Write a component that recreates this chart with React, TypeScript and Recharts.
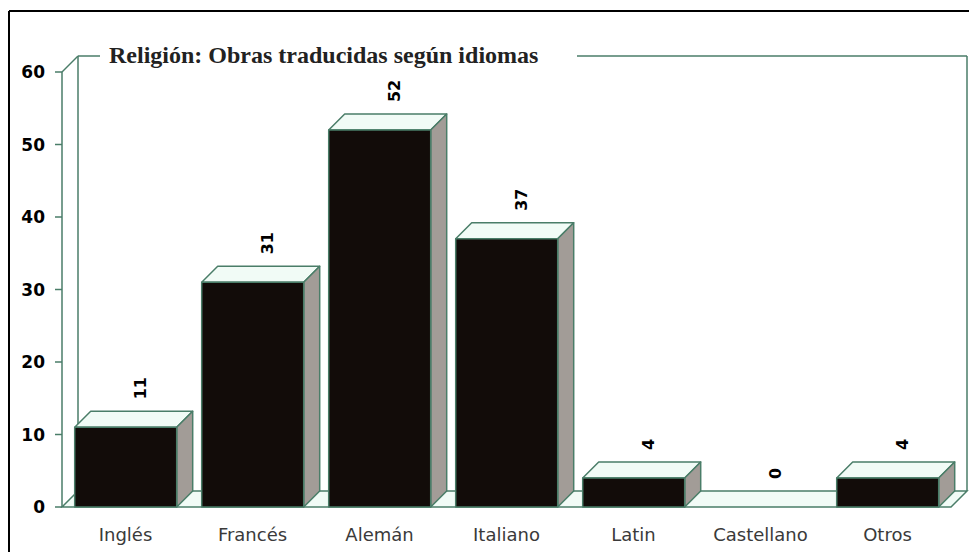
import { BarChart, Bar, XAxis, YAxis, LabelList } from 'recharts'

const idiomas = ['Inglés', 'Francés', 'Alemán', 'Italiano', 'Latin', 'Castellano', 'Otros']
const obras = [11, 31, 52, 37, 4, 0, 4]
const yTicks = [0, 10, 20, 30, 40, 50, 60]
const titulo = 'Religión: Obras traducidas según idiomas'

const data = idiomas.map((idioma, i) => ({ idioma, obras: obras[i] }))

const W = 969
const H = 552
const MARGIN = { top: 72, right: 18, left: 0, bottom: 0 }
const Y_AXIS_W = 62
const X_AXIS_H = 45
const DX = 16
const DY = 16

const GREEN = '#4a7d68'
const MINT = '#f1fbf6'
const SIDE = '#a29c97'
const FRONT = '#120c09'

// plot box, from the margins above
const left = MARGIN.left + Y_AXIS_W
const right = W - MARGIN.right
const top = MARGIN.top
const bottom = H - MARGIN.bottom - X_AXIS_H

function Box3D(props: any) {
  const { x, y, width: w, height: h } = props
  if (!h || h <= 0) return <g />
  return (
    <g stroke={GREEN} strokeWidth={1.5} strokeLinejoin="round">
      <polygon
        points={`${x},${y} ${x + DX},${y - DY} ${x + w + DX},${y - DY} ${x + w},${y}`}
        fill={MINT}
      />
      <polygon
        points={`${x + w},${y} ${x + w + DX},${y - DY} ${x + w + DX},${y + h - DY} ${x + w},${y + h}`}
        fill={SIDE}
      />
      <rect x={x} y={y} width={w} height={h} fill={FRONT} />
    </g>
  )
}

function ValueLabel(props: any) {
  const { x, y, width, value } = props
  const cx = x + width / 2 + DX - 1
  const cy = y - DY - 12
  return (
    <text
      x={cx}
      y={cy}
      transform={`rotate(-90 ${cx} ${cy})`}
      textAnchor="start"
      dominantBaseline="central"
      fontFamily="DejaVu Sans"
      fontWeight="bold"
      fontSize={16}
      fill="#000"
    >
      {value}
    </text>
  )
}

function XTick(props: any) {
  const { x, y, payload } = props
  return (
    <text x={x} y={y + 26} textAnchor="middle" fontFamily="DejaVu Sans" fontSize={18} fill="#3a3a3a">
      {payload.value}
    </text>
  )
}

function YTick(props: any) {
  const { x, y, payload } = props
  return (
    <text
      x={x - 8}
      y={y}
      textAnchor="end"
      dominantBaseline="central"
      fontFamily="DejaVu Sans"
      fontWeight="bold"
      fontSize={17}
      fill="#000"
    >
      {payload.value}
    </text>
  )
}

function Frame() {
  return (
    <svg width={W} height={H} style={{ position: 'absolute', left: 0, top: 0 }}>
      <rect x={0} y={0} width={W} height={H} fill="#fff" />
      <line x1={9} y1={11} x2={W} y2={11} stroke="#000" strokeWidth={2} />
      <line x1={9} y1={11} x2={9} y2={H} stroke="#000" strokeWidth={2} />
      <g stroke={GREEN} strokeWidth={1.5} fill="none">
        <polygon
          points={`${left},${bottom} ${left + DX},${bottom - DY} ${right + DX},${bottom - DY} ${right},${bottom}`}
          fill={MINT}
        />
        <line x1={left + DX} y1={top - DY} x2={left + DX} y2={bottom - DY} />
        <line x1={right + DX} y1={top - DY} x2={right + DX} y2={bottom - DY} />
        <line x1={left} y1={top} x2={left} y2={bottom} />
        <line x1={left} y1={top} x2={left + DX} y2={top - DY} />
        <line x1={left + DX} y1={top - DY} x2={100} y2={top - DY} />
        <line x1={577} y1={top - DY} x2={right + DX} y2={top - DY} />
      </g>
      <text
        x={109}
        y={top - DY + 7}
        fontFamily="Liberation Serif"
        fontWeight="bold"
        fontSize={24}
        fill="#222"
      >
        {titulo}
      </text>
    </svg>
  )
}

export default function App() {
  return (
    <div style={{ position: 'absolute', left: 0, top: 0, width: W, height: H }}>
      <Frame />
      <div style={{ position: 'absolute', left: 0, top: 0 }}>
        <BarChart width={W} height={H} data={data} margin={MARGIN} barCategoryGap="10%">
          <XAxis dataKey="idioma" height={X_AXIS_H} axisLine={false} tickLine={false} tick={<XTick />} interval={0} />
          <YAxis
            width={Y_AXIS_W}
            domain={[0, 60]}
            ticks={yTicks}
            axisLine={false}
            tickLine={{ stroke: GREEN, strokeWidth: 1.5 }}
            tickSize={7}
            tick={<YTick />}
          />
          <Bar dataKey="obras" shape={<Box3D />} isAnimationActive={false}>
            <LabelList dataKey="obras" content={<ValueLabel />} />
          </Bar>
        </BarChart>
      </div>
    </div>
  )
}
